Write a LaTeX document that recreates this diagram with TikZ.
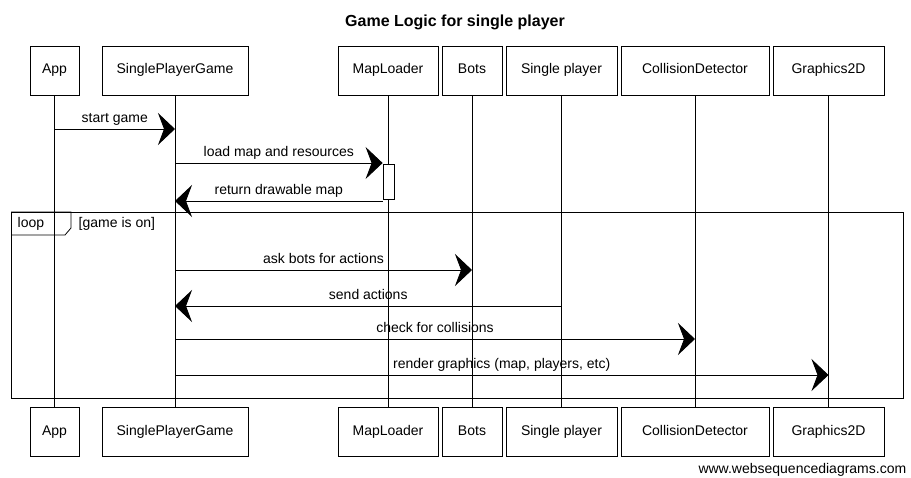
\documentclass[tikz,border=0pt]{standalone}
\usepackage{fontspec}
\setmainfont{Liberation Sans}
\usetikzlibrary{calc,arrows.meta}

\begin{document}
\begin{tikzpicture}[x=1pt, y=-1pt, line width=0.8pt,
    every node/.style={font=\fontsize{14}{16}\selectfont},
    actor/.style={draw, inner sep=0pt, minimum height=49pt, text height=10pt, text depth=3pt},
    msg/.style={-{Stealth[length=17pt,width=32pt,inset=6pt]}},
    lbl/.style={above, inner sep=3pt, text height=10pt, text depth=3pt}]
    \useasboundingbox (0,0) rectangle (911,478);

    \node [font=\bfseries\fontsize{16}{18}\selectfont] (title) at (455,22) {Game Logic for single player};

    \node [actor, minimum width=49pt] (tapp) at (54.5,70.5) {App};
    \node [actor, minimum width=146pt] (tspg) at (175,70.5) {SinglePlayerGame};
    \node [actor, minimum width=100pt] (tml) at (388,70.5) {MapLoader};
    \node [actor, minimum width=60pt] (tbots) at (472,70.5) {Bots};
    \node [actor, minimum width=111pt] (tsp) at (561.5,70.5) {Single player};
    \node [actor, minimum width=148pt] (tcd) at (695,70.5) {CollisionDetector};
    \node [actor, minimum width=111pt] (tgfx) at (828.5,70.5) {Graphics2D};

    \node [actor, minimum width=49pt] (bapp) at (54.5,432) {App};
    \node [actor, minimum width=146pt] (bspg) at (175,432) {SinglePlayerGame};
    \node [actor, minimum width=100pt] (bml) at (388,432) {MapLoader};
    \node [actor, minimum width=60pt] (bbots) at (472,432) {Bots};
    \node [actor, minimum width=111pt] (bsp) at (561.5,432) {Single player};
    \node [actor, minimum width=148pt] (bcd) at (695,432) {CollisionDetector};
    \node [actor, minimum width=111pt] (bgfx) at (828.5,432) {Graphics2D};

    \draw (tapp) -- (bapp);
    \draw (tspg) -- (bspg);
    \draw (tml) -- (bml);
    \draw (tbots) -- (bbots);
    \draw (tsp) -- (bsp);
    \draw (tcd) -- (bcd);
    \draw (tgfx) -- (bgfx);

    \node [draw, fill=white, inner sep=0pt, minimum width=11pt, minimum height=35pt] (act) at (388.5,181.5) {};

    \coordinate (m1a) at (tapp |- 0,129);
    \coordinate (m1b) at (tspg |- 0,129);
    \coordinate (m2a) at (tspg |- 0,163);
    \coordinate (m2b) at (act.west |- 0,163);
    \coordinate (m3a) at (act.west |- 0,201);
    \coordinate (m3b) at (tspg |- 0,201);

    \draw [msg] (m1a) -- (m1b) node [lbl, midway] {start game};
    \draw [msg] (m2a) -- (m2b) node [lbl, midway] {load map and resources};
    \draw [msg] (m3a) -- (m3b) node [lbl, midway] {return drawable map};

    \draw (11,212) rectangle (903,398);
    \draw (11,212) -- (71,212) -- (71,228) -- (65,235) -- (11,235);
    \node [anchor=west] (loop) at (14,223.5) {loop};
    \node [anchor=west] (guard) at (75,223.5) {[game is on]};

    \coordinate (m4a) at (tspg |- 0,270);
    \coordinate (m4b) at (tbots |- 0,270);
    \coordinate (m5a) at (tsp |- 0,306);
    \coordinate (m5b) at (tspg |- 0,306);
    \coordinate (m6a) at (tspg |- 0,339);
    \coordinate (m6b) at (tcd |- 0,339);
    \coordinate (m7a) at (tspg |- 0,375);
    \coordinate (m7b) at (tgfx |- 0,375);

    \draw [msg] (m4a) -- (m4b) node [lbl, midway] {ask bots for actions};
    \draw [msg] (m5a) -- (m5b) node [lbl, midway] {send actions};
    \draw [msg] (m6a) -- (m6b) node [lbl, midway] {check for collisions};
    \draw [msg] (m7a) -- (m7b) node [lbl, midway] {render graphics (map, players, etc)};

    \node [anchor=east, font=\fontsize{14}{16}\selectfont] (site) at (910,470) {www.websequencediagrams.com};
\end{tikzpicture}
\end{document}
